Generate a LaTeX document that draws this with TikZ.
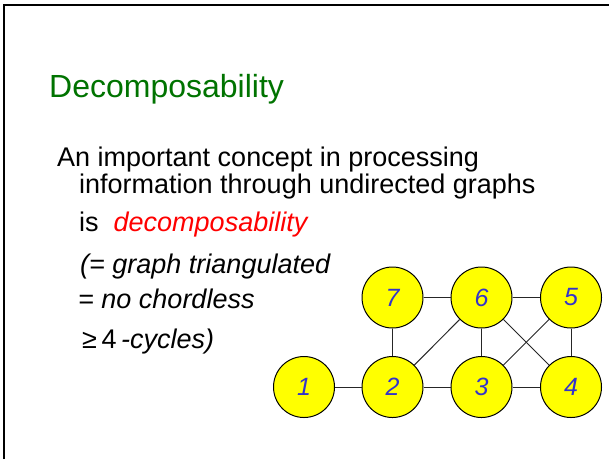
\documentclass[tikz,border=0pt]{standalone}
\usepackage{fontspec}
\setmainfont{Liberation Sans}
\definecolor{titlegreen}{RGB}{0,115,0}
\definecolor{numblue}{RGB}{51,51,204}
\definecolor{nodeyellow}{RGB}{255,255,0}
\begin{document}
\begin{tikzpicture}[x=1pt,y=-1pt,
  txt/.style={anchor=base west,inner sep=0pt,font=\fontsize{27}{32}\selectfont},
  vert/.style={circle,draw=black,line width=1pt,fill=nodeyellow,minimum size=61pt,inner sep=0pt,
    text=numblue,font=\fontsize{25}{30}\selectfont\itshape},
  edge/.style={draw=black!85,line width=1pt}]
\useasboundingbox (0,0) rectangle (609,459);
% slide frame
\draw[line width=2pt] (4,459) -- (4,5) -- (609,5);
% title
\node[anchor=base west,inner sep=0pt,text=titlegreen,font=\fontsize{32}{38}\selectfont] (title) at (49,97) {Decomposability};
% body
\node[txt] (l1) at (57,166) {An important concept in processing};
\node[txt] (l2) at (79,193) {information through undirected graphs};
\node[txt] (l3) at (79,231) {is\ \ \textcolor{red}{\itshape decomposability}};
\node[txt] (l4) at (80,273) {\itshape (= graph triangulated};
\node[txt] (l5) at (78,308) {\itshape = no chordless};
\node[txt] (l6) at (82,348) {≥\,4\,\itshape -cycles)};
% graph
\node[vert] (n1) at (304,387) {1};
\node[vert] (n2) at (392.5,387) {2};
\node[vert] (n3) at (481.5,387) {3};
\node[vert] (n4) at (571,387) {4};
\node[vert] (n7) at (392.5,297.5) {7};
\node[vert] (n6) at (481.5,297.5) {6};
\node[vert] (n5) at (571,297.5) {5};
\begin{scope}[on background layer/.try]
\end{scope}
\draw[edge] (n1) -- (n2);
\draw[edge] (n2) -- (n3);
\draw[edge] (n3) -- (n4);
\draw[edge] (n7) -- (n6);
\draw[edge] (n6) -- (n5);
\draw[edge] (n7) -- (n2);
\draw[edge] (n6) -- (n3);
\draw[edge] (n5) -- (n4);
\draw[edge] (n2) -- (n6);
\draw[edge] (n6) -- (n4);
\draw[edge] (n5) -- (n3);
\end{tikzpicture}
\end{document}
